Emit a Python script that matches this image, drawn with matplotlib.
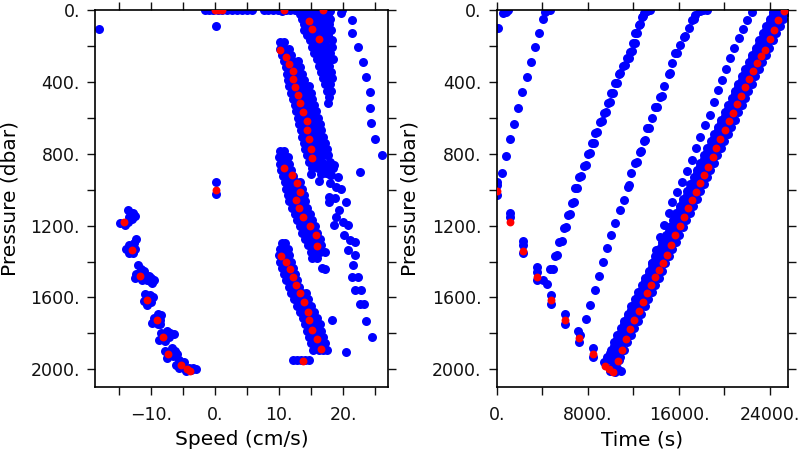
import matplotlib
matplotlib.use("Agg")
import matplotlib.pyplot as plt

BLUE = "#0000ff"
RED = "#ff0000"

# ================= LEFT PANEL: speed (cm/s) vs pressure (dbar) =================
# individual blue points (speed, pressure)
spd_surface_blue = [(-1.6, 2), (-0.9, 3), (-0.3, 1), (0.4, 2), (1.1, 3), (1.8, 2), (2.6, 1),
                    (3.4, 2), (4.2, 3), (5.0, 1), (5.8, 2), (7.6, 2), (8.3, 1), (9.0, 3),
                    (9.8, 2), (10.4, 4), (11.0, 1), (11.7, 3), (12.4, 2), (13.1, 4), (13.8, 2),
                    (14.5, 5), (15.3, 3), (16.0, 2), (16.7, 4), (17.4, 3), (18.0, 6), (19.8, 1),
                    (-18.1, 106), (0.2, 89), (0.15, 955), (0.15, 1025)]

# dense blue bands, given as (pressure, [speeds])
spd_blob_rows = [
    (25, [13.3, 14.0, 14.8, 15.5, 16.2, 17.0, 17.7]),
    (50, [13.5, 14.3, 15.1, 15.9, 16.7, 17.5, 18.0]),
    (80, [13.8, 14.6, 15.4, 16.2, 17.0, 17.8]),
    (110, [13.9, 14.8, 15.6, 16.4, 17.2, 18.1]),
    (140, [14.3, 15.3, 16.1, 16.9, 17.7]),
    (170, [14.8, 15.6, 16.4, 17.2, 18.2]),
    (205, [15.2, 16.0, 16.8, 17.6, 18.3]),
    (240, [15.5, 16.4, 17.2, 18.0]),
    (275, [15.9, 16.7, 17.5, 18.4]),
    (310, [16.2, 17.0, 17.8]),
    (345, [16.5, 17.3, 18.1]),
    (380, [16.8, 17.6, 18.3]),
    (415, [17.2, 17.9]),
    (450, [17.5, 18.1]),
    (485, [17.8]),
    (520, [17.6]),
]
spd_band1_rows = [
    (180, [10.1, 10.7]),
    (215, [10.1, 10.9, 11.5]),
    (250, [10.4, 11.2, 11.9]),
    (285, [10.7, 11.4, 12.2, 12.9]),
    (320, [11.0, 11.7, 12.5, 13.2]),
    (355, [11.2, 12.0, 12.8, 13.5]),
    (390, [11.3, 12.2, 13.0, 13.8]),
    (425, [11.6, 12.4, 13.2, 14.0, 14.6]),
    (460, [11.8, 12.6, 13.4, 14.2, 14.9]),
    (495, [12.1, 12.9, 13.7, 14.5, 15.2]),
    (530, [12.4, 13.2, 14.0, 14.8, 15.5]),
    (565, [12.7, 13.4, 14.2, 15.0, 15.8]),
    (600, [12.9, 13.7, 14.5, 15.3, 16.1]),
    (635, [13.1, 13.9, 14.7, 15.5, 16.4]),
    (670, [13.4, 14.2, 15.0, 15.8, 16.6]),
    (705, [13.6, 14.4, 15.2, 16.0, 16.9]),
    (740, [13.9, 14.7, 15.5, 16.3, 17.1]),
    (775, [14.1, 14.9, 15.7, 16.5, 17.4]),
    (810, [14.4, 15.1, 16.0, 16.8, 17.7]),
    (845, [14.7, 15.5, 16.4, 17.9]),
    (880, [15.2, 16.0, 17.2, 18.4]),
    (915, [15.0, 16.6, 17.8]),
]
spd_band2_rows = [
    (785, [10.2, 10.8]),
    (820, [10.0, 10.7, 11.3]),
    (855, [10.1, 10.9, 11.6]),
    (890, [10.3, 11.1, 11.9]),
    (925, [10.6, 11.4, 12.2]),
    (960, [10.9, 11.7, 12.6, 13.2]),
    (995, [11.1, 11.9, 12.8, 13.5]),
    (1030, [11.3, 12.2, 13.0, 13.8]),
    (1065, [11.6, 12.4, 13.3, 14.1]),
    (1100, [12.0, 12.8, 13.6, 14.4]),
    (1135, [12.4, 13.2, 14.0, 14.8]),
    (1170, [12.8, 13.6, 14.4, 15.2]),
    (1205, [13.2, 14.0, 14.8, 15.6]),
    (1240, [13.6, 14.4, 15.2, 15.9]),
    (1275, [14.0, 14.8, 15.6, 16.3]),
    (1310, [14.5, 15.3, 16.1, 16.6]),
    (1345, [14.9, 15.6, 16.4]),
    (1380, [15.2, 15.9]),
]
spd_band3_rows = [
    (1295, [10.4, 10.9]),
    (1330, [10.1, 10.8, 11.3]),
    (1365, [10.0, 10.8, 11.6]),
    (1400, [10.2, 11.0, 11.8]),
    (1435, [10.5, 11.3, 12.2]),
    (1470, [10.8, 11.6, 12.5]),
    (1505, [11.1, 11.9, 12.8]),
    (1540, [11.5, 12.3, 13.1]),
    (1575, [11.9, 12.7, 13.5, 14.2]),
    (1610, [12.3, 13.1, 13.9, 14.5]),
    (1645, [12.8, 13.6, 14.4, 15.0]),
    (1680, [13.3, 14.1, 14.9, 15.5]),
    (1715, [13.7, 14.4, 15.3, 15.9]),
    (1750, [14.0, 14.8, 15.6, 16.3]),
    (1785, [14.3, 15.1, 15.9, 16.6]),
    (1820, [14.7, 15.4, 16.2, 16.9]),
    (1855, [15.0, 15.8, 16.6, 17.2]),
    (1890, [15.3, 16.2, 16.9, 17.4]),
    (1950, [12.2, 12.8, 13.4, 14.1, 14.7]),
]
spd_scatter_blue = [(15.6, 798), (16.6, 801), (17.5, 807), (16.8, 853), (17.8, 863), (18.6, 863),
                    (17.3, 909), (18.1, 918), (19.2, 927), (17.9, 965), (18.9, 987), (19.7, 998),
                    (17.8, 1039), (18.7, 1048), (17.8, 1067), (20.4, 1067), (19.4, 1113),
                    (18.9, 1150), (20.0, 1178), (20.7, 1196), (20.2, 1252), (21.0, 1280),
                    (21.8, 1289), (20.7, 1336), (21.8, 1363), (21.5, 1419), (21.3, 1484),
                    (22.3, 1484), (21.8, 1558), (22.8, 1558), (22.6, 1636), (23.2, 1636),
                    (23.5, 1729), (24.5, 1818), (20.4, 1903), (18.6, 1198), (18.3, 1725),
                    (17.1, 1443), (16.2, 950), (17.1, 1345), (16.7, 1438)]
spd_outer_blue = [(19.7, 15), (21.3, 56), (21.4, 130), (22.3, 208), (23.1, 288), (23.6, 371),
                  (24.2, 455), (24.2, 544), (24.3, 631), (25.0, 720), (26.0, 809), (22.6, 903)]
spd_descent_blue = [(-13.6, 1115), (-12.9, 1130), (-12.6, 1145), (-13.4, 1150), (-13.0, 1165),
                    (-13.6, 1180), (-14.1, 1195), (-14.8, 1185),
                    (-12.4, 1275), (-12.7, 1295), (-13.4, 1310), (-14.0, 1330), (-12.6, 1330),
                    (-13.5, 1350), (-12.9, 1350),
                    (-12.0, 1420), (-11.6, 1440), (-11.2, 1455), (-12.3, 1470), (-11.0, 1480),
                    (-12.5, 1490), (-10.4, 1480), (-10.0, 1490), (-9.6, 1500), (-10.2, 1510),
                    (-9.8, 1520), (-10.6, 1500), (-11.5, 1500),
                    (-11.0, 1580), (-10.2, 1585), (-9.7, 1600), (-11.2, 1620), (-10.0, 1625),
                    (-10.6, 1640),
                    (-9.0, 1690), (-8.4, 1700), (-9.6, 1715), (-8.6, 1725), (-9.8, 1740),
                    (-9.0, 1750), (-8.6, 1745),
                    (-7.6, 1785), (-7.0, 1800), (-6.5, 1805), (-8.5, 1800), (-7.2, 1820),
                    (-8.8, 1835), (-7.8, 1840),
                    (-6.8, 1880), (-6.3, 1895), (-7.8, 1900), (-6.0, 1915), (-6.6, 1925),
                    (-7.6, 1935),
                    (-5.6, 1950), (-4.9, 1960), (-6.2, 1975), (-5.7, 1990), (-4.9, 1995),
                    (-4.1, 1990), (-3.5, 1995), (-3.0, 2000), (-4.6, 2010), (-3.8, 2005)]
spd_red = [(0.0, 2), (0.5, 2), (1.0, 2), (10.7, 2), (16.8, 2),
           (14.7, 59), (15.1, 107), (16.2, 163),
           (10.2, 223), (11.0, 260), (11.6, 300), (12.1, 339), (12.1, 386), (12.5, 430),
           (12.9, 473), (13.2, 519), (13.7, 566), (14.3, 616), (14.4, 668), (14.6, 720),
           (14.9, 772), (15.2, 826),
           (10.8, 881), (12.0, 918), (12.8, 965), (13.3, 1011), (12.7, 1058), (13.1, 1104),
           (13.7, 1150), (14.8, 1200), (15.7, 1252), (15.9, 1312),
           (10.3, 1367), (11.0, 1404), (11.7, 1443), (12.2, 1484), (12.7, 1532), (13.3, 1577),
           (13.8, 1623), (14.5, 1679), (14.7, 1725), (15.1, 1781), (15.9, 1831), (16.5, 1889),
           (13.7, 1952),
           (-14.3, 1182), (-13.0, 1337), (-11.7, 1478), (-10.6, 1613), (-9.1, 1725),
           (-8.1, 1822), (-7.3, 1914), (-5.3, 1974), (-4.4, 1998), (-4.0, 2008),
           (0.15, 1002)]

# ================= RIGHT PANEL: time (s) vs pressure (dbar) =================
time_descent_blue = [(50, 955), (50, 975), (50, 1030), (1172, 1132), (1172, 1150),
                     (2344, 1284), (2344, 1308), (2344, 1354), (3575, 1429), (3575, 1456),
                     (3575, 1503), (4102, 1503), (4395, 1525), (4747, 1586), (4747, 1636),
                     (6007, 1694), (6007, 1748), (7120, 1787), (7325, 1809), (7250, 1846),
                     (8409, 1883), (8409, 1933), (9460, 1960), (9700, 1950), (10000, 1945),
                     (10350, 1960), (10700, 1950), (10950, 2010), (10100, 1985), (10600, 1995),
                     (9900, 2010), (10400, 2015), (88, 102), (586, 15), (820, 9), (1026, 2)]
time_lineA_blue = [(440, 905), (820, 811), (1172, 720), (1524, 635), (1905, 544), (2256, 458),
                   (2637, 371), (3018, 289), (3370, 208), (3721, 130), (4043, 50), (4249, 9),
                   (4688, 0)]
time_lineB_blue = [(4700, 1443), (4900, 1440), (5100, 1369), (5300, 1365), (5500, 1289),
                   (5700, 1285), (5860, 1215), (6050, 1210), (6212, 1141), (6400, 1138),
                   (6593, 1072), (6780, 1068), (6886, 993), (7070, 990), (7179, 928),
                   (7360, 925), (7618, 866), (7800, 862), (7970, 801), (8150, 798), (8351, 742),
                   (8530, 738), (8644, 683), (8820, 680), (9024, 622), (9200, 618), (9376, 575),
                   (9550, 570), (9728, 516), (9900, 512), (10050, 464), (10220, 460),
                   (10402, 408), (10570, 404), (10695, 356), (10860, 352), (11075, 312),
                   (11230, 308), (11427, 269), (11580, 265), (11720, 232), (11870, 228),
                   (11954, 186), (12100, 182), (12160, 130), (12300, 126), (12453, 83),
                   (12600, 80), (12746, 37), (12880, 34), (12951, 15), (13185, 4), (13478, 0)]
time_lineC_blue = [(7852, 1722), (8204, 1642), (8585, 1558), (8966, 1481), (9317, 1401),
                   (9669, 1327), (10050, 1252), (10402, 1184), (10782, 1113), (11134, 1058),
                   (11515, 983), (11808, 909), (12160, 853), (12540, 789), (12892, 727),
                   (13185, 659), (13625, 603), (13918, 542), (14357, 482), (14650, 423),
                   (15090, 356), (15383, 297), (15676, 241), (16115, 195), (16408, 148),
                   (16848, 102), (17141, 56), (17434, 28), (17873, 4), (18459, 0),
                   (11650, 975), (12300, 848), (12680, 785), (13040, 722), (13350, 655),
                   (14050, 538), (14500, 478), (15230, 352), (15820, 238), (16550, 145),
                   (17290, 52), (18100, 2)]
time_lineD_blue = [(22415, 9), (21975, 56), (21623, 108), (21243, 158), (20862, 213),
                   (20510, 269), (20158, 330), (19778, 390), (19397, 445), (19045, 510),
                   (18693, 584), (18313, 640), (17873, 705), (17521, 770), (17141, 835),
                   (16701, 894), (16262, 955), (15822, 1011), (15383, 1067), (15090, 1132),
                   (14709, 1197), (14357, 1262), (14005, 1336), (13625, 1410)]
# dense ascent band, given as (pressure, [times])
time_band_rows = [
    (10, [24270, 24600, 24930, 25450]), (50, [23970, 24300, 24620, 25150]),
    (90, [23670, 24000, 24310, 24850]), (130, [23360, 23690, 24010, 24540]),
    (170, [23060, 23390, 23700, 24240]), (210, [22750, 23080, 23400, 23930]),
    (250, [22450, 22780, 23100, 23630]), (290, [22150, 22480, 22800, 23330]),
    (330, [21840, 22170, 22490, 23020]), (370, [21540, 21870, 22190, 22720]),
    (410, [21230, 21560, 21880, 22410]), (450, [20930, 21260, 21580, 22110]),
    (490, [20630, 20960, 21280, 21810]), (530, [20320, 20650, 20970, 21500]),
    (570, [20020, 20350, 20670, 21200]), (610, [19710, 20040, 20360, 20890]),
    (650, [19410, 19740, 20060, 20590]), (690, [19110, 19440, 19760, 20290]),
    (730, [18800, 19130, 19450, 19980]), (770, [18500, 18830, 19150, 19680]),
    (810, [18190, 18520, 18840, 19370]), (850, [17890, 18220, 18540, 19070]),
    (890, [17590, 17920, 18240, 18770]), (930, [17280, 17610, 17930, 18460]),
    (970, [16980, 17310, 17630, 18160]), (1010, [16670, 17000, 17320, 17850]),
    (1050, [16370, 16700, 17020, 17550]), (1090, [16070, 16400, 16720, 17250]),
    (1130, [15760, 16090, 16410, 16940]), (1170, [15460, 15790, 16110, 16640]),
    (1210, [15150, 15480, 15800, 16330]), (1250, [14850, 15180, 15500, 16030]),
    (1290, [14550, 14880, 15200, 15730]), (1330, [14240, 14570, 14890, 15420]),
    (1370, [13940, 14270, 14590, 15120]), (1410, [13630, 13960, 14280, 14810]),
    (1450, [13330, 13660, 13980, 14510]), (1490, [13030, 13360, 13680, 14210]),
    (1530, [12720, 13050, 13370, 13900]), (1570, [12420, 12750, 13070, 13600]),
    (1610, [12110, 12440, 12760, 13290]), (1650, [11810, 12140, 12460, 12990]),
    (1690, [11510, 11840, 12160, 12690]), (1730, [11200, 11530, 11850, 12380]),
    (1770, [10900, 11230, 11550, 12080]), (1810, [10590, 10920, 11240, 11770]),
    (1850, [10290, 10620, 10940, 11470]), (1890, [10000, 10320, 10640, 11160]),
    (1930, [9700, 10020, 10330, 10860]),
    (30, [24270, 24600, 24920]), (70, [23970, 24300, 24620]),
    (110, [23660, 23990, 24310]), (150, [23360, 23690, 24010]),
    (190, [23060, 23390, 23710]), (230, [22750, 23080, 23400]),
    (270, [22450, 22780, 23100]), (310, [22140, 22470, 22790]),
    (350, [21840, 22170, 22490]), (390, [21540, 21870, 22190]),
    (430, [21230, 21560, 21880]), (470, [20930, 21260, 21580]),
    (510, [20620, 20950, 21270]), (550, [20320, 20650, 20970]),
    (590, [20020, 20350, 20670]), (630, [19710, 20040, 20360]),
    (670, [19410, 19740, 20060]), (710, [19100, 19430, 19750]),
    (750, [18800, 19130, 19450]), (790, [18500, 18830, 19150]),
    (830, [18190, 18520, 18840]), (870, [17890, 18220, 18540]),
    (910, [17580, 17910, 18230]), (950, [17280, 17610, 17930]),
    (990, [16980, 17310, 17630]), (1030, [16670, 17000, 17320]),
    (1070, [16370, 16700, 17020]), (1110, [16060, 16390, 16710]),
    (1150, [15760, 16090, 16410]), (1190, [15460, 15790, 16110]),
    (1230, [15150, 15480, 15800]), (1270, [14850, 15180, 15500]),
    (1310, [14540, 14870, 15190]), (1350, [14240, 14570, 14890]),
    (1390, [13940, 14270, 14590]), (1430, [13630, 13960, 14280]),
    (1470, [13330, 13660, 13980]), (1510, [13020, 13350, 13670]),
    (1550, [12720, 13050, 13370]), (1590, [12420, 12750, 13070]),
    (1630, [12110, 12440, 12760]), (1670, [11810, 12140, 12460]),
    (1710, [11500, 11830, 12150]), (1750, [11200, 11530, 11850]),
    (1790, [10900, 11230, 11550]), (1830, [10590, 10920, 11240]),
    (1870, [10290, 10620, 10940]), (1910, [9980, 10310, 10630]),
    (1950, [10200, 10500]),
]
time_red = [(50, 1006), (1172, 1182), (2344, 1340), (3575, 1484), (4747, 1614), (6007, 1725),
            (7180, 1827), (8409, 1917), (9464, 1980), (9816, 1998), (10196, 2013),
            (25198, 4), (24700, 56), (24319, 111), (23967, 163), (23587, 223), (23235, 256),
            (22854, 297), (22502, 340), (22122, 386), (21770, 430), (21448, 479), (21096, 523),
            (20744, 571), (20364, 616), (20012, 668), (19631, 720), (19279, 770), (18957, 820),
            (18576, 872), (18225, 918), (17873, 965), (17492, 1011), (17141, 1058),
            (16760, 1104), (16408, 1150), (16056, 1200), (15676, 1252), (15324, 1308),
            (14943, 1364), (14591, 1406), (14269, 1447), (13859, 1488), (13537, 1531),
            (13185, 1577), (12833, 1623), (12453, 1673), (12072, 1725), (11720, 1777),
            (11339, 1833), (10988, 1892), (10607, 1952)]

speed_ticks = [-15, -10, -5, 0, 5, 10, 15, 20, 25]
speed_ticklabels = ["", "\u221210.", "", "0.", "", "10.", "", "20.", ""]
time_ticks = [0, 4000, 8000, 12000, 16000, 20000, 24000]
time_ticklabels = ["0.", "", "8000.", "", "16000.", "", "24000."]
pres_ticks = [0, 200, 400, 600, 800, 1000, 1200, 1400, 1600, 1800, 2000]
pres_ticklabels = ["0.", "", "400.", "", "800.", "", "1200.", "", "1600.", "", "2000."]


def from_rows(rows):
    xs, ys = [], []
    for p, vals in rows:
        for v in vals:
            xs.append(v)
            ys.append(p)
    return xs, ys


def from_pts(pts):
    return [a for a, b in pts], [b for a, b in pts]


plt.rcParams["font.family"] = ["DejaVu Sans"]
fig = plt.figure(figsize=(8, 4.5), dpi=100)
ax1 = fig.add_axes([0.119, 0.14, 0.366, 0.838])
ax2 = fig.add_axes([0.621, 0.14, 0.364, 0.838])

SB, SR = 42, 32

blue_left = []
for rows in (spd_blob_rows, spd_band1_rows, spd_band2_rows, spd_band3_rows):
    blue_left.append(from_rows(rows))
for pts in (spd_surface_blue, spd_scatter_blue, spd_outer_blue, spd_descent_blue):
    blue_left.append(from_pts(pts))
for xs, ys in blue_left:
    ax1.scatter(xs, ys, s=SB, c=BLUE, linewidths=0, zorder=2)
xs, ys = from_pts(spd_red)
ax1.scatter(xs, ys, s=SR, c=RED, linewidths=0, zorder=3)

blue_right = [from_rows(time_band_rows)]
for pts in (time_descent_blue, time_lineA_blue, time_lineB_blue, time_lineC_blue, time_lineD_blue):
    blue_right.append(from_pts(pts))
for xs, ys in blue_right:
    ax2.scatter(xs, ys, s=SB, c=BLUE, linewidths=0, zorder=2)
xs, ys = from_pts(time_red)
ax2.scatter(xs, ys, s=SR, c=RED, linewidths=0, zorder=3)

ax1.set_xlim(-18.75, 27.0)
ax2.set_xlim(0, 25580)
ax1.set_xticks(speed_ticks)
ax1.set_xticklabels(speed_ticklabels)
ax2.set_xticks(time_ticks)
ax2.set_xticklabels(time_ticklabels)

for ax in (ax1, ax2):
    ax.set_ylim(2098, 0)
    ax.set_yticks(pres_ticks)
    ax.set_yticklabels(pres_ticklabels)
    ax.tick_params(direction="out", length=6, width=1.0, top=True, right=True,
                   labeltop=False, labelright=False, labelsize=12.5, colors="#111111")
    ax.tick_params(axis="x", pad=8)
    ax.tick_params(axis="y", pad=5)
    for sp in ax.spines.values():
        sp.set_linewidth(1.2)
    ax.set_ylabel("Pressure (dbar)", fontsize=14.5)

ax1.set_xlabel("Speed (cm/s)", fontsize=14.5)
ax2.set_xlabel("Time (s)", fontsize=14.5)
ax1.xaxis.set_label_coords(0.5, -0.115)
ax2.xaxis.set_label_coords(0.5, -0.115)
ax1.yaxis.set_label_coords(-0.259, 0.5)
ax2.yaxis.set_label_coords(-0.267, 0.5)

fig.savefig("out.png", dpi=100)
